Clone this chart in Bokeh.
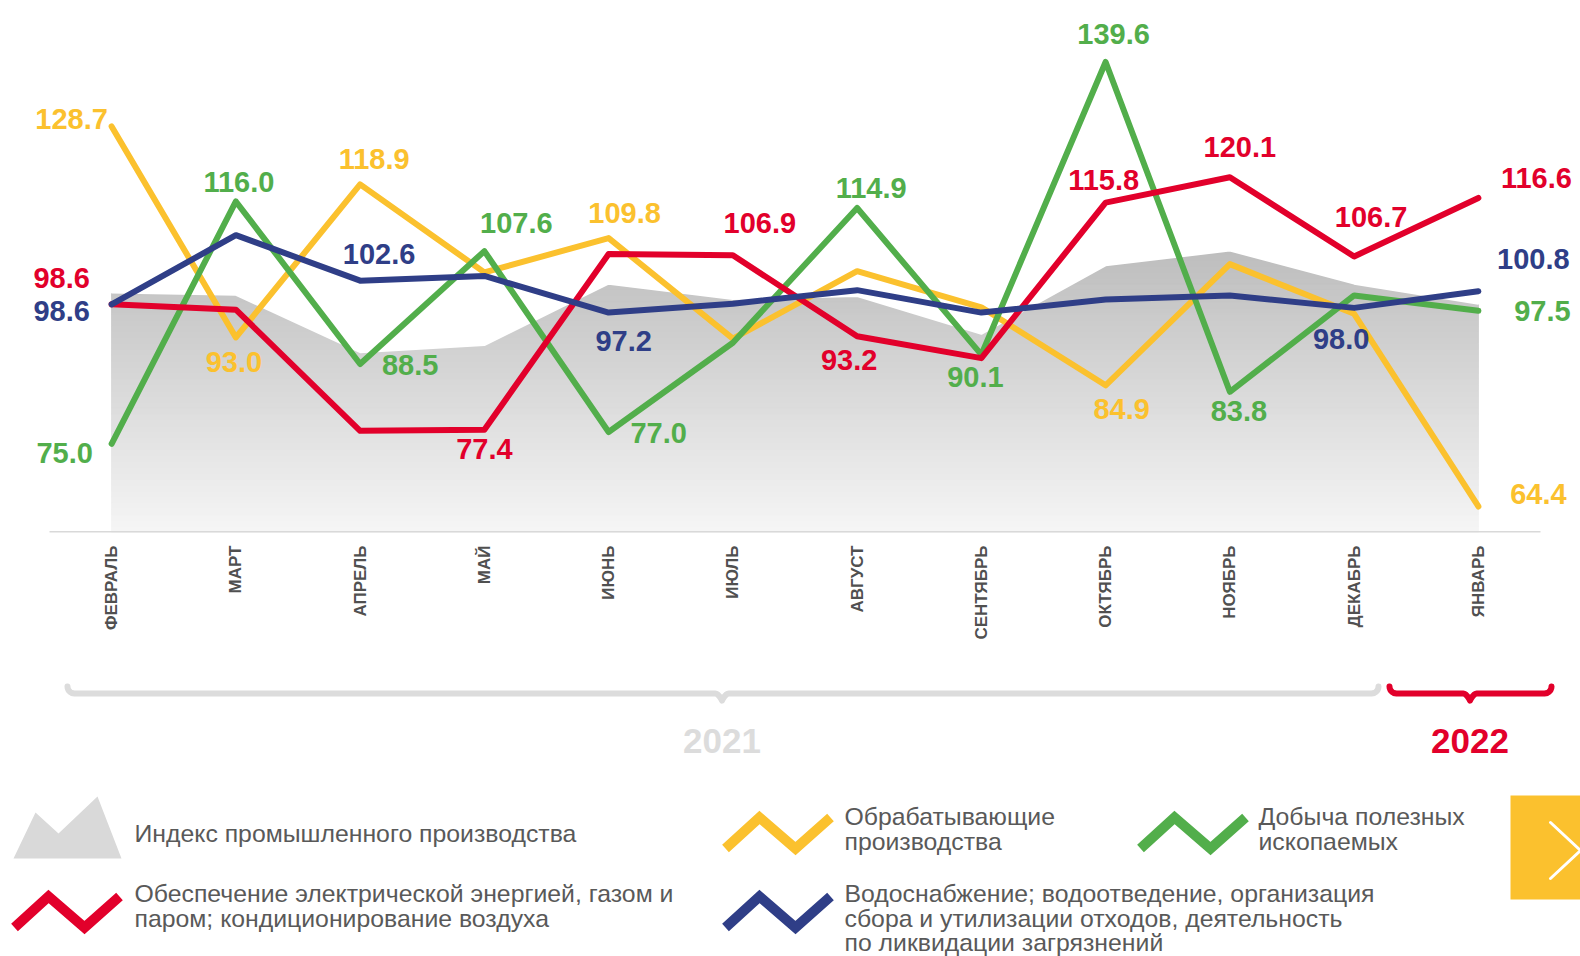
import numpy as np
from bokeh.plotting import figure
from bokeh.models import ColumnDataSource, LabelSet, Range1d, FixedTicker
from bokeh.layouts import column
from bokeh.embed import file_html
from bokeh.resources import INLINE
from bokeh.core.properties import value

# ---------------- data ----------------
months = ["ФЕВРАЛЬ", "МАРТ", "АПРЕЛЬ", "МАЙ", "ИЮНЬ", "ИЮЛЬ", "АВГУСТ",
          "СЕНТЯБРЬ", "ОКТЯБРЬ", "НОЯБРЬ", "ДЕКАБРЬ", "ЯНВАРЬ"]
index_total = [100.6, 100.2, 90.5, 91.7, 102.1, 99.5, 100.0, 93.6, 105.2, 107.7, 102.1, 98.7]
manufacturing = [128.7, 93.0, 118.9, 104.0, 109.8, 92.8, 104.2, 98.1, 84.9, 105.4, 97.0, 64.4]
mining = [75.0, 116.0, 88.5, 107.6, 77.0, 92.1, 114.9, 90.1, 139.6, 83.8, 100.1, 97.5]
energy = [98.6, 97.7, 77.2, 77.4, 107.1, 106.9, 93.2, 89.5, 115.8, 120.1, 106.7, 116.6]
water = [98.6, 110.3, 102.6, 103.4, 97.2, 98.7, 101.0, 97.2, 99.4, 100.1, 98.0, 100.8]
years = ["2021", "2022"]
legend_labels = [
    "Индекс промышленного производства",
    "Обрабатывающие\nпроизводства",
    "Добыча полезных\nископаемых",
    "Обеспечение электрической энергией, газом и\nпаром; кондиционирование воздуха",
    "Водоснабжение; водоотведение, организация\nсбора и утилизации отходов, деятельность\nпо ликвидации загрязнений",
]

# ---------------- styles ----------------
C_YEL = "#FBC12E"
C_GRN = "#52AE4B"
C_RED = "#E2002B"
C_BLU = "#2F3E87"
C_TXT = "#595959"
C_LGRAY = "#DCDCDC"
FONT = "Liberation Sans"

# label offsets (screen px, dy positive = down) for the labelled points
lab_manuf = {0: (-40, -5), 1: (-2, 27), 2: (14, -23), 4: (16, -23), 8: (16, 26), 11: (60, -10)}
lab_mining = {0: (-47, 11), 1: (3, -17), 2: (50, 3), 3: (32, -26), 4: (50, 3), 6: (14, -18),
              7: (-6, 24), 8: (8, -26), 9: (9, 21), 11: (64, 2)}
lab_energy = {0: (-50, -24), 3: (0, 21), 5: (27, -30), 6: (-8, 26), 8: (-2, -21), 9: (10, -28),
              10: (17, -37), 11: (58, -18)}
lab_water = {0: (-50, 9), 2: (19, -25), 4: (15, 30), 10: (-13, 33), 11: (55, -30)}
LABEL_SHIFT = -2  # global vertical nudge for value labels

idx = list(range(len(months)))
n = len(months)
step = 124.25            # px per category
pad_l, pad_r = 49, 40    # px between frame edge and category band
Y0, Y1 = 60, 150

p = figure(width=1580, height=660,
           x_range=Range1d(-0.5 - pad_l / step, n - 0.5 + pad_r / step),
           y_range=Range1d(Y0, Y1), min_border_left=0, min_border_right=0,
           min_border_top=0, min_border_bottom=128, y_axis_location=None,
           toolbar_location=None, output_backend="svg")
p.outline_line_color = None
p.xgrid.visible = False
p.ygrid.visible = False
p.background_fill_color = "white"
p.border_fill_color = "white"

# gradient gray area (index of industrial production)
levels = np.arange(Y0, np.ceil(max(index_total)) + 2, 1.0)
cols = []
for lv in levels[:-1]:
    t = (lv - 60) / 50.0
    g = int(round(245 - t * (245 - 186)))
    g = max(min(g, 255), 0)
    cols.append("#%02x%02x%02x" % (g, g, g))
p.quad(left=idx[0], right=idx[-1], bottom=levels[:-1], top=levels[1:],
       fill_color=cols, line_color=cols, line_width=1)
# white mask above the index curve
p.patch(x=[idx[0]] + idx + [idx[-1]], y=[Y1] + index_total + [Y1],
        fill_color="white", line_color="white", line_width=2)

# axis base line across the category band
p.segment(x0=[-0.5], y0=[Y0], x1=[n - 0.5], y1=[Y0], line_color="#D9D9D9", line_width=3)

series = [(manufacturing, C_YEL, lab_manuf), (mining, C_GRN, lab_mining),
          (energy, C_RED, lab_energy), (water, C_BLU, lab_water)]
for vals, col, labs in series:
    p.line(idx, vals, line_width=6, color=col, line_join="round", line_cap="round")

for vals, col, labs in series:
    ks = sorted(labs)
    src = ColumnDataSource(dict(
        x=[idx[k] for k in ks], y=[vals[k] for k in ks],
        t=["%.1f" % vals[k] for k in ks],
        dx=[labs[k][0] for k in ks], dy=[-(labs[k][1] + LABEL_SHIFT) for k in ks]))
    p.add_layout(LabelSet(x="x", y="y", text="t", source=src, x_offset="dx", y_offset="dy",
                          text_align="center", text_baseline="middle",
                          text_font=value(FONT), text_font_style="bold",
                          text_font_size="29px", text_color=col))

ax = p.xaxis[0]
ax.ticker = FixedTicker(ticks=idx)
ax.major_label_overrides = {i: m for i, m in zip(idx, months)}
ax.major_label_orientation = np.pi / 2
ax.major_label_text_font = FONT
ax.major_label_text_font_style = "bold"
ax.major_label_text_font_size = "17px"
ax.major_label_text_color = "#505050"
ax.major_label_standoff = 7
ax.axis_line_color = None
ax.major_tick_line_color = None
ax.minor_tick_line_color = None

# ---------------- bottom panel: braces, years, legend ----------------
q = figure(width=1580, height=296, x_range=Range1d(0, 1580), y_range=Range1d(956, 660),
           min_border=0, toolbar_location=None, output_backend="svg",
           x_axis_location=None, y_axis_location=None)
q.outline_line_color = None
q.xgrid.visible = False
q.ygrid.visible = False


def brace(x0, x1, xc, y, r=7, d=7):
    xs, ys = [], []
    a = np.linspace(np.pi, np.pi / 2, 8)
    xs += list(x0 + r + r * np.cos(a)); ys += list(y - r + r * np.sin(a))
    s = np.linspace(0, 1, 8)
    xs += list(xc - r + r * s); ys += list(y + d * s ** 2)
    xs += list(xc + r * s); ys += list(y + d * (1 - s) ** 2)
    a = np.linspace(np.pi / 2, 0, 8)
    xs += list(x1 - r + r * np.cos(a)); ys += list(y - r + r * np.sin(a))
    return xs, ys


bx, by = brace(67, 1378, 721.5, 693)
q.line(bx, by, line_width=6, color=C_LGRAY, line_cap="round", line_join="round")
bx, by = brace(1389, 1551, 1469.5, 693)
q.line(bx, by, line_width=6, color=C_RED, line_cap="round", line_join="round")

q.text(x=[721.5, 1469.5], y=[740, 740], text=years, text_align="center", text_baseline="middle",
       text_font=value(FONT), text_font_style="bold", text_font_size="35px",
       text_color=[C_LGRAY, C_RED])

# legend icons
q.patch([13, 35, 58, 97, 121], [858, 812, 833, 796, 858], fill_color="#D9D9D9", line_color=None)


def zig(x0, y0):
    return [x0, x0 + 34, x0 + 70, x0 + 105], [y0, y0 - 31, y0, y0 - 31]


for (x0, y0), col in [((725, 848), C_YEL), ((1140, 848), C_GRN), ((14, 927), C_RED), ((725, 927), C_BLU)]:
    zx, zy = zig(x0, y0)
    q.line(zx, zy, line_width=10, color=col, line_join="miter", line_cap="butt")

# legend texts
lx = [134, 844, 1258, 134, 844]
ly = [833, 816, 816, 893, 893]
tx, ty, tt = [], [], []
for lab, x0, y0 in zip(legend_labels, lx, ly):
    for j, line in enumerate(lab.split("\n")):
        tx.append(x0); ty.append(y0 + 24.5 * j); tt.append(line)
q.text(x=tx, y=ty, text=tt, text_align="left", text_baseline="middle",
       text_font=value(FONT), text_font_size="24.8px", text_color=C_TXT)

# yellow next button
q.quad(left=1510, right=1580, top=795, bottom=899, fill_color=C_YEL, line_color=None)
q.line([1550, 1580, 1550], [822, 850, 878], line_width=3, color="white", line_cap="round")

layout = column(p, q, spacing=0)
open("out.html", "w").write(file_html(layout, INLINE))
